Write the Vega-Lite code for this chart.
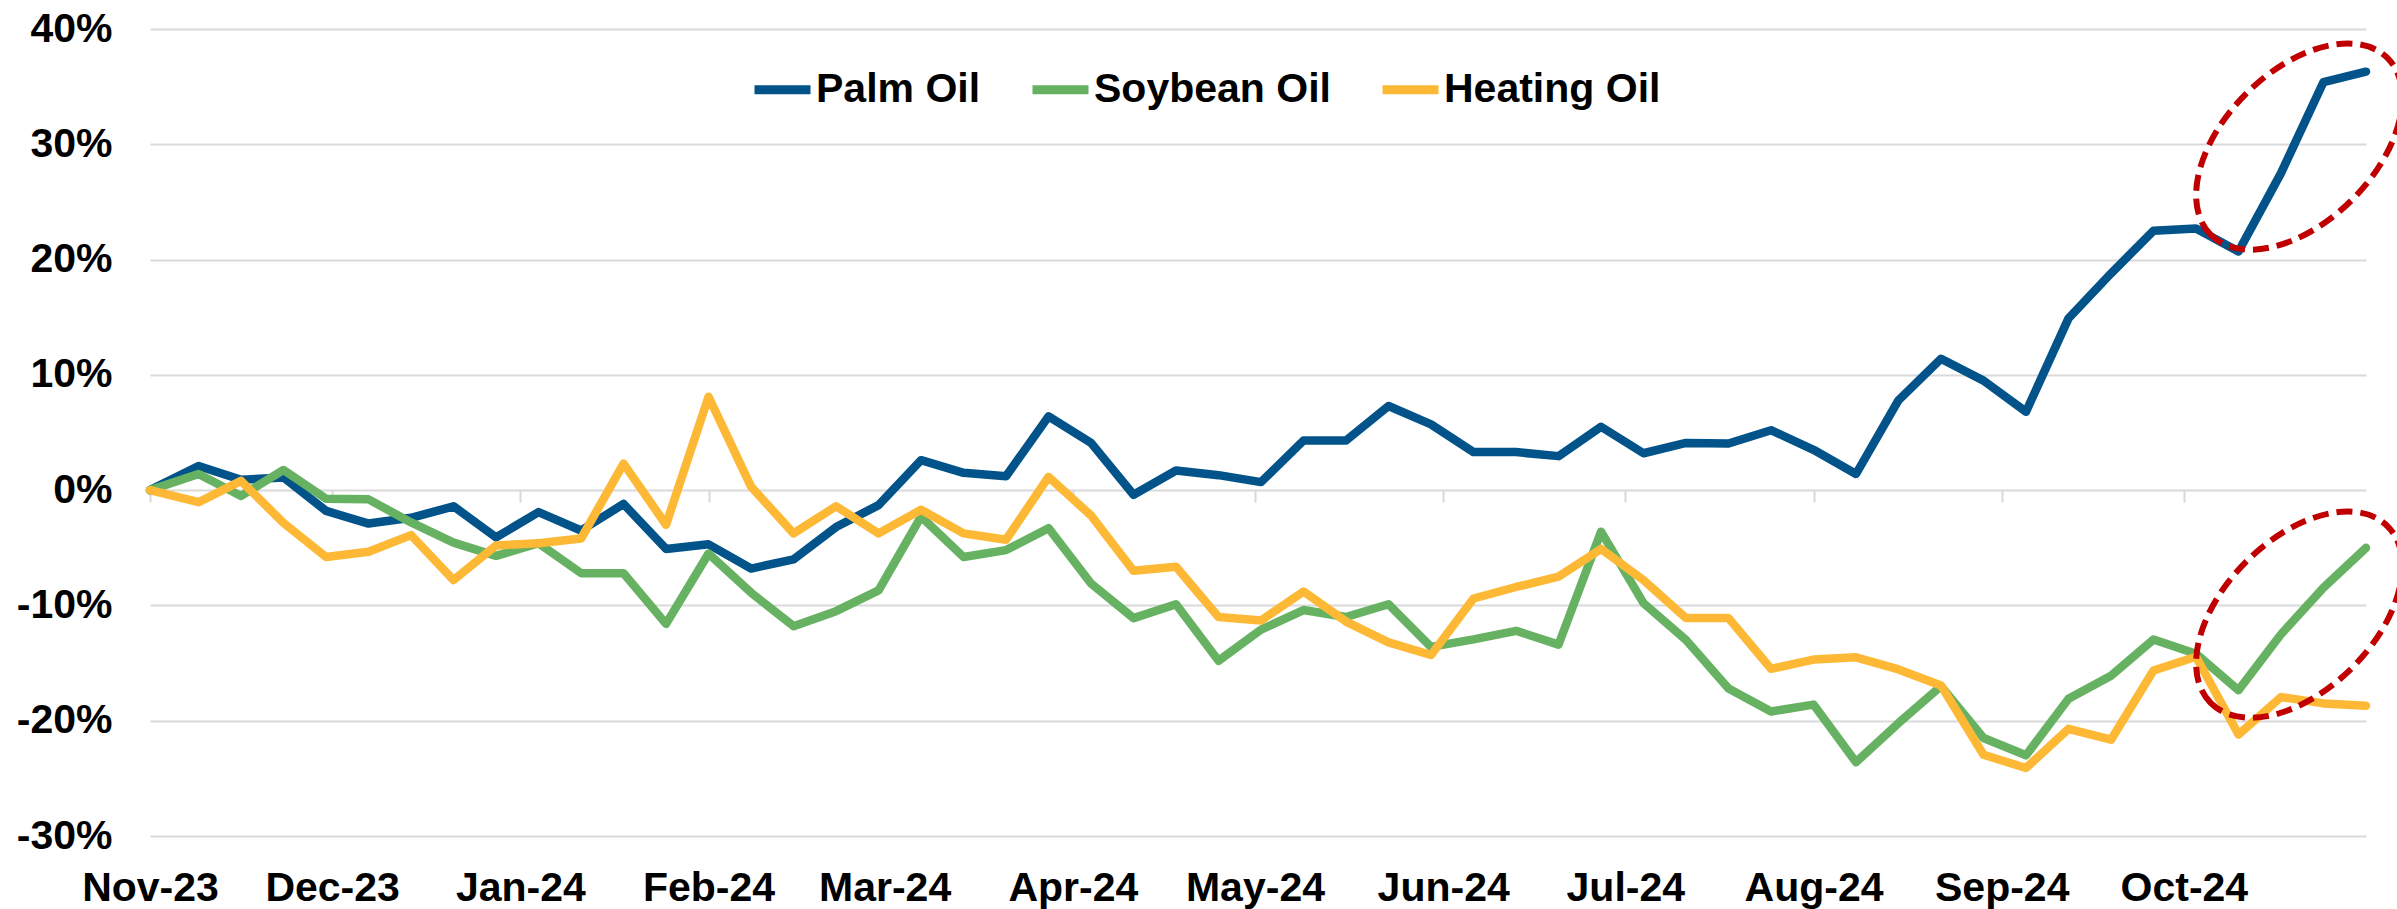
{
  "$schema": "https://vega.github.io/schema/vega-lite/v6.json",
  "autosize": {"type": "none"},
  "padding": {"left": 150, "top": 29, "right": 31, "bottom": 73},
  "width": 2216,
  "height": 807,
  "background": "white",
  "config": {
    "view": {"stroke": null},
    "font": "Liberation Sans",
    "axis": {"labelFont": "Liberation Sans", "labelFontWeight": "bold", "labelFontSize": 41, "labelColor": "#000000"}
  },
  "datasets": {
    "prices": [
      {"date": "2023-11-01", "Palm Oil": 0, "Soybean Oil": 0, "Heating Oil": 0},
      {"date": "2023-11-09", "Palm Oil": 2.1, "Soybean Oil": 1.4, "Heating Oil": -1.05},
      {"date": "2023-11-16", "Palm Oil": 0.9, "Soybean Oil": -0.5, "Heating Oil": 0.8},
      {"date": "2023-11-23", "Palm Oil": 1.1, "Soybean Oil": 1.75, "Heating Oil": -2.85},
      {"date": "2023-11-30", "Palm Oil": -1.8, "Soybean Oil": -0.75, "Heating Oil": -5.8},
      {"date": "2023-12-07", "Palm Oil": -2.9, "Soybean Oil": -0.8, "Heating Oil": -5.35},
      {"date": "2023-12-14", "Palm Oil": -2.4, "Soybean Oil": -2.8, "Heating Oil": -3.9},
      {"date": "2023-12-21", "Palm Oil": -1.4, "Soybean Oil": -4.55, "Heating Oil": -7.8},
      {"date": "2023-12-28", "Palm Oil": -4.1, "Soybean Oil": -5.7, "Heating Oil": -4.8},
      {"date": "2024-01-04", "Palm Oil": -1.9, "Soybean Oil": -4.6, "Heating Oil": -4.6},
      {"date": "2024-01-11", "Palm Oil": -3.5, "Soybean Oil": -7.2, "Heating Oil": -4.2},
      {"date": "2024-01-18", "Palm Oil": -1.2, "Soybean Oil": -7.2, "Heating Oil": 2.3},
      {"date": "2024-01-25", "Palm Oil": -5.1, "Soybean Oil": -11.6, "Heating Oil": -3.0},
      {"date": "2024-02-01", "Palm Oil": -4.7, "Soybean Oil": -5.5, "Heating Oil": 8.1},
      {"date": "2024-02-08", "Palm Oil": -6.8, "Soybean Oil": -8.9, "Heating Oil": 0.3},
      {"date": "2024-02-15", "Palm Oil": -6.0, "Soybean Oil": -11.8, "Heating Oil": -3.75},
      {"date": "2024-02-22", "Palm Oil": -3.2, "Soybean Oil": -10.5, "Heating Oil": -1.4},
      {"date": "2024-02-29", "Palm Oil": -1.3, "Soybean Oil": -8.7, "Heating Oil": -3.75},
      {"date": "2024-03-07", "Palm Oil": 2.6, "Soybean Oil": -2.3, "Heating Oil": -1.7},
      {"date": "2024-03-14", "Palm Oil": 1.5, "Soybean Oil": -5.8, "Heating Oil": -3.75},
      {"date": "2024-03-21", "Palm Oil": 1.2, "Soybean Oil": -5.2, "Heating Oil": -4.3},
      {"date": "2024-03-28", "Palm Oil": 6.4, "Soybean Oil": -3.3, "Heating Oil": 1.15},
      {"date": "2024-04-04", "Palm Oil": 4.1, "Soybean Oil": -8.1, "Heating Oil": -2.2},
      {"date": "2024-04-11", "Palm Oil": -0.4, "Soybean Oil": -11.1, "Heating Oil": -7.0},
      {"date": "2024-04-18", "Palm Oil": 1.7, "Soybean Oil": -9.9, "Heating Oil": -6.65},
      {"date": "2024-04-25", "Palm Oil": 1.3, "Soybean Oil": -14.8, "Heating Oil": -11.0},
      {"date": "2024-05-02", "Palm Oil": 0.7, "Soybean Oil": -12.1, "Heating Oil": -11.3},
      {"date": "2024-05-09", "Palm Oil": 4.3, "Soybean Oil": -10.4, "Heating Oil": -8.8},
      {"date": "2024-05-16", "Palm Oil": 4.3, "Soybean Oil": -11.0, "Heating Oil": -11.4},
      {"date": "2024-05-23", "Palm Oil": 7.3, "Soybean Oil": -9.9, "Heating Oil": -13.2},
      {"date": "2024-05-30", "Palm Oil": 5.7, "Soybean Oil": -13.6, "Heating Oil": -14.3},
      {"date": "2024-06-06", "Palm Oil": 3.3, "Soybean Oil": -12.95, "Heating Oil": -9.4},
      {"date": "2024-06-13", "Palm Oil": 3.3, "Soybean Oil": -12.2, "Heating Oil": -8.4},
      {"date": "2024-06-20", "Palm Oil": 2.95, "Soybean Oil": -13.4, "Heating Oil": -7.5},
      {"date": "2024-06-27", "Palm Oil": 5.5, "Soybean Oil": -3.6, "Heating Oil": -5.1},
      {"date": "2024-07-04", "Palm Oil": 3.2, "Soybean Oil": -9.8, "Heating Oil": -7.8},
      {"date": "2024-07-11", "Palm Oil": 4.1, "Soybean Oil": -13.0, "Heating Oil": -11.1},
      {"date": "2024-07-18", "Palm Oil": 4.05, "Soybean Oil": -17.2, "Heating Oil": -11.1},
      {"date": "2024-07-25", "Palm Oil": 5.2, "Soybean Oil": -19.2, "Heating Oil": -15.5},
      {"date": "2024-08-01", "Palm Oil": 3.5, "Soybean Oil": -18.6, "Heating Oil": -14.7},
      {"date": "2024-08-08", "Palm Oil": 1.4, "Soybean Oil": -23.6, "Heating Oil": -14.5},
      {"date": "2024-08-15", "Palm Oil": 7.8, "Soybean Oil": -20.2, "Heating Oil": -15.55},
      {"date": "2024-08-22", "Palm Oil": 11.4, "Soybean Oil": -17.0, "Heating Oil": -16.95},
      {"date": "2024-08-29", "Palm Oil": 9.5, "Soybean Oil": -21.5, "Heating Oil": -22.95},
      {"date": "2024-09-05", "Palm Oil": 6.8, "Soybean Oil": -23.0, "Heating Oil": -24.1},
      {"date": "2024-09-12", "Palm Oil": 14.9, "Soybean Oil": -18.1, "Heating Oil": -20.7},
      {"date": "2024-09-19", "Palm Oil": 18.8, "Soybean Oil": -16.1, "Heating Oil": -21.65},
      {"date": "2024-09-26", "Palm Oil": 22.5, "Soybean Oil": -12.95, "Heating Oil": -15.65},
      {"date": "2024-10-03", "Palm Oil": 22.7, "Soybean Oil": -14.2, "Heating Oil": -14.45},
      {"date": "2024-10-10", "Palm Oil": 20.7, "Soybean Oil": -17.35, "Heating Oil": -21.2},
      {"date": "2024-10-17", "Palm Oil": 27.5, "Soybean Oil": -12.5, "Heating Oil": -17.95},
      {"date": "2024-10-24", "Palm Oil": 35.4, "Soybean Oil": -8.45, "Heating Oil": -18.5},
      {"date": "2024-10-31", "Palm Oil": 36.3, "Soybean Oil": -5.0, "Heating Oil": -18.7}
    ],
    "highlights": [
      {"date": "2024-10-20", "value": 29.8},
      {"date": "2024-10-20", "value": -10.8}
    ]
  },
  "resolve": {"axis": {"x": "independent"}},
  "layer": [
    {
      "data": {"name": "prices"},
      "transform": [{"fold": ["Palm Oil", "Soybean Oil", "Heating Oil"], "as": ["series", "value"]}],
      "mark": {"type": "line", "strokeWidth": 8.5, "strokeJoin": "round", "strokeCap": "round"},
      "encoding": {
        "x": {
          "field": "date", "type": "temporal",
          "scale": {"type": "utc", "domain": [{"year": 2023, "month": 11, "date": 1, "utc": true}, {"year": 2024, "month": 10, "date": 31, "utc": true}]},
          "axis": {
            "title": null, "orient": "bottom", "format": "%b-%y", "domain": false, "ticks": false, "grid": false,
            "labelFlush": false, "labelOverlap": false, "labelBound": false, "labelPadding": 32,
            "values": [
              {"year": 2023, "month": 11, "date": 1, "utc": true},
              {"year": 2023, "month": 12, "date": 1, "utc": true},
              {"year": 2024, "month": 1, "date": 1, "utc": true},
              {"year": 2024, "month": 2, "date": 1, "utc": true},
              {"year": 2024, "month": 3, "date": 1, "utc": true},
              {"year": 2024, "month": 4, "date": 1, "utc": true},
              {"year": 2024, "month": 5, "date": 1, "utc": true},
              {"year": 2024, "month": 6, "date": 1, "utc": true},
              {"year": 2024, "month": 7, "date": 1, "utc": true},
              {"year": 2024, "month": 8, "date": 1, "utc": true},
              {"year": 2024, "month": 9, "date": 1, "utc": true},
              {"year": 2024, "month": 10, "date": 1, "utc": true}
            ]
          }
        },
        "y": {
          "field": "value", "type": "quantitative",
          "scale": {"domain": [-30, 40], "nice": false, "zero": false},
          "axis": {
            "title": null, "values": [-30, -20, -10, 0, 10, 20, 30, 40],
            "labelExpr": "(datum.value < 0 ? '-' : '') + abs(datum.value) + '%'",
            "domain": false, "ticks": false, "labelPadding": 38, "labelOverlap": false,
            "grid": true, "gridColor": "#d9d9d9", "gridWidth": 2
          }
        },
        "color": {
          "field": "series", "type": "nominal",
          "scale": {"domain": ["Palm Oil", "Soybean Oil", "Heating Oil"], "range": ["#02538A", "#67B262", "#FDB935"]},
          "legend": {
            "title": null, "orient": "none", "direction": "horizontal", "legendX": 600, "legendY": 28,
            "padding": 0, "symbolType": "stroke", "symbolSize": 3136, "symbolStrokeWidth": 9,
            "labelFont": "Liberation Sans", "labelFontWeight": "bold", "labelFontSize": 41, "labelColor": "#000000",
            "labelOffset": 1, "labelLimit": 0, "columnPadding": 33
          }
        }
      }
    },
    {
      "data": {"name": "highlights"},
      "mark": {
        "type": "point",
        "shape": "M -1 0 A 1 0.6 0 1 1 1 0 A 1 0.6 0 1 1 -1 0 Z",
        "size": 62500, "angle": 315, "filled": false, "opacity": 1,
        "stroke": "#C00000", "strokeWidth": 6, "strokeDash": [16, 8]
      },
      "encoding": {
        "x": {
          "field": "date", "type": "temporal",
          "axis": {
            "title": null, "orient": "bottom", "offset": -346, "labels": false, "domain": false, "grid": false,
            "ticks": true, "tickSize": 12, "tickColor": "#d9d9d9", "tickWidth": 2,
            "values": [
              {"year": 2023, "month": 11, "date": 1, "utc": true},
              {"year": 2023, "month": 12, "date": 1, "utc": true},
              {"year": 2024, "month": 1, "date": 1, "utc": true},
              {"year": 2024, "month": 2, "date": 1, "utc": true},
              {"year": 2024, "month": 3, "date": 1, "utc": true},
              {"year": 2024, "month": 4, "date": 1, "utc": true},
              {"year": 2024, "month": 5, "date": 1, "utc": true},
              {"year": 2024, "month": 6, "date": 1, "utc": true},
              {"year": 2024, "month": 7, "date": 1, "utc": true},
              {"year": 2024, "month": 8, "date": 1, "utc": true},
              {"year": 2024, "month": 9, "date": 1, "utc": true},
              {"year": 2024, "month": 10, "date": 1, "utc": true}
            ]
          }
        },
        "y": {"field": "value", "type": "quantitative"}
      }
    }
  ]
}
